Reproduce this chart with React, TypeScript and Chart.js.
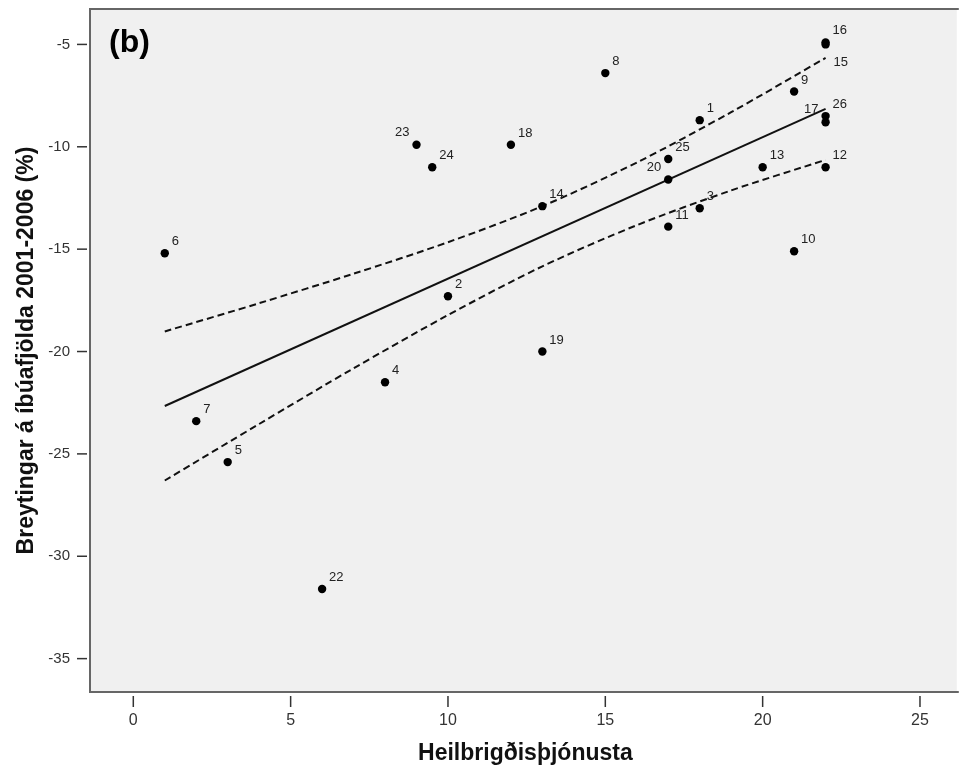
import React, { useEffect, useRef } from 'react';
import { Chart, registerables } from 'chart.js';

Chart.register(...registerables);

// Case numbers and values
const caseIds = [1, 2, 3, 4, 5, 6, 7, 8, 9, 10, 11, 12, 13, 14, 15, 16, 17, 18, 19, 20, 22, 23, 24, 25, 26];
const xValues = [18, 10, 18, 8, 3, 1, 2, 15, 21, 21, 17, 22, 20, 13, 22, 22, 22, 12, 13, 17, 6, 9, 9.5, 17, 22];
const yValues = [-8.7, -17.3, -13.0, -21.5, -25.4, -15.2, -23.4, -6.4, -7.3, -15.1, -13.9, -11.0, -11.0, -12.9, -5.0, -4.9, -8.8, -9.9, -20.0, -11.6, -31.6, -9.9, -11.0, -10.6, -8.5];
// label placement: ur = up-right, ul = up-left, dr = down-right
const labelPlacement = ['ur', 'ur', 'ur', 'ur', 'ur', 'ur', 'ur', 'ur', 'ur', 'ur', 'ur', 'ur', 'ur', 'ur', 'dr', 'ur', 'ul', 'ur', 'ur', 'ul', 'ur', 'ul', 'ur', 'ur', 'ur'];

// Fit line
const fitX = [1, 22];
const fitY = [-22.66, -8.15];

// 95% confidence band
const ciX = [1, 4, 7, 10, 13, 16, 19, 22];
const ciUpper = [-19.02, -17.64, -16.2, -14.66, -12.9, -10.77, -8.31, -5.66];
const ciLower = [-26.3, -23.54, -20.82, -18.22, -15.84, -13.83, -12.13, -10.64];

const xTicks = [0, 5, 10, 15, 20, 25];
const yTicks = [-5, -10, -15, -20, -25, -30, -35];

const xTitle = 'Heilbrigðisþjónusta';
const yTitle = 'Breytingar á íbúafjölda 2001-2006 (%)';
const panelTag = '(b)';

const FONT = '"Liberation Sans", Arial, sans-serif';

export default function App() {
  const ref = useRef<HTMLCanvasElement>(null);

  useEffect(() => {
    const canvas = ref.current;
    if (!canvas) return;

    const framePlugin = {
      id: 'spssFrame',
      beforeDatasetsDraw(chart: any) {
        const { ctx, chartArea } = chart;
        ctx.save();
        ctx.fillStyle = '#f0f0f0';
        ctx.fillRect(chartArea.left, chartArea.top, chartArea.right - chartArea.left, chartArea.bottom - chartArea.top);
        ctx.restore();
      },
      afterDraw(chart: any) {
        const { ctx, chartArea, scales } = chart;
        const { left, top, right, bottom } = chartArea;
        ctx.save();
        // frame
        ctx.strokeStyle = '#666';
        ctx.lineWidth = 2;
        ctx.beginPath();
        ctx.moveTo(right + 2, top);
        ctx.lineTo(left, top);
        ctx.lineTo(left, bottom);
        ctx.lineTo(right + 2, bottom);
        ctx.stroke();

        // tick marks and tick labels
        ctx.strokeStyle = '#333';
        ctx.lineWidth = 1.5;
        ctx.fillStyle = '#333';
        xTicks.forEach((v) => {
          const px = scales.x.getPixelForValue(v);
          ctx.beginPath();
          ctx.moveTo(px, bottom + 4);
          ctx.lineTo(px, bottom + 15);
          ctx.stroke();
          ctx.font = `16px ${FONT}`;
          ctx.textAlign = 'center';
          ctx.textBaseline = 'alphabetic';
          ctx.fillText(String(v), px, bottom + 33);
        });
        yTicks.forEach((v) => {
          const py = scales.y.getPixelForValue(v);
          ctx.beginPath();
          ctx.moveTo(left - 13, py);
          ctx.lineTo(left - 3, py);
          ctx.stroke();
          ctx.font = `15px ${FONT}`;
          ctx.textAlign = 'right';
          ctx.textBaseline = 'middle';
          ctx.fillText(String(v), left - 20, py);
        });

        // point labels
        const meta = chart.getDatasetMeta(0);
        ctx.fillStyle = '#222';
        ctx.font = `13px ${FONT}`;
        ctx.textBaseline = 'alphabetic';
        meta.data.forEach((el: any, i: number) => {
          const p = labelPlacement[i];
          const label = String(caseIds[i]);
          if (p === 'ul') {
            ctx.textAlign = 'right';
            ctx.fillText(label, el.x - 7, el.y - 9);
          } else if (p === 'dr') {
            ctx.textAlign = 'left';
            ctx.fillText(label, el.x + 8, el.y + 22);
          } else {
            ctx.textAlign = 'left';
            ctx.fillText(label, el.x + 7, el.y - 8);
          }
        });

        // panel tag
        ctx.fillStyle = '#000';
        ctx.font = `bold 32px ${FONT}`;
        ctx.textAlign = 'left';
        ctx.textBaseline = 'middle';
        ctx.fillText(panelTag, left + 19, top + 34);

        // axis titles
        ctx.fillStyle = '#111';
        ctx.font = `bold 23px ${FONT}`;
        ctx.textAlign = 'center';
        ctx.textBaseline = 'alphabetic';
        ctx.fillText(xTitle, (left + right) / 2 + 2, bottom + 68);

        ctx.translate(33, (top + bottom) / 2);
        ctx.rotate(-Math.PI / 2);
        ctx.fillText(yTitle, 0, 0);
        ctx.restore();
      },
    };

    const points = xValues.map((x, i) => ({ x, y: yValues[i] }));
    const fit = fitX.map((x, i) => ({ x, y: fitY[i] }));
    const upper = ciX.map((x, i) => ({ x, y: ciUpper[i] }));
    const lower = ciX.map((x, i) => ({ x, y: ciLower[i] }));

    const chart = new Chart(canvas, {
      type: 'scatter',
      data: {
        datasets: [
          {
            data: points,
            pointRadius: 4.2,
            pointBackgroundColor: '#000',
            pointBorderColor: '#000',
            pointBorderWidth: 0,
            showLine: false,
          },
          {
            data: fit,
            showLine: true,
            borderColor: '#111',
            borderWidth: 2,
            pointRadius: 0,
          },
          {
            data: upper,
            showLine: true,
            borderColor: '#111',
            borderWidth: 2,
            borderDash: [7, 4],
            pointRadius: 0,
            tension: 0.3,
          },
          {
            data: lower,
            showLine: true,
            borderColor: '#111',
            borderWidth: 2,
            borderDash: [7, 4],
            pointRadius: 0,
            tension: 0.3,
          },
        ],
      } as any,
      options: {
        responsive: false,
        maintainAspectRatio: false,
        animation: false,
        layout: { padding: { top: 9, right: 0, left: 0, bottom: 0 } },
        plugins: {
          legend: { display: false },
          tooltip: { enabled: false },
        },
        scales: {
          x: {
            type: 'linear',
            min: -1.376,
            max: 26.17,
            grid: { display: false },
            border: { display: false },
            afterBuildTicks: (s: any) => {
              s.ticks = xTicks.map((v) => ({ value: v }));
            },
            afterFit: (s: any) => {
              s.height = 77;
              s.paddingLeft = 0;
              s.paddingRight = 0;
            },
            ticks: { display: false, padding: 0 },
          },
          y: {
            type: 'linear',
            min: -36.63,
            max: -3.27,
            grid: { display: false },
            border: { display: false },
            afterBuildTicks: (s: any) => {
              s.ticks = yTicks.map((v) => ({ value: v }));
            },
            afterFit: (s: any) => {
              s.width = 90;
              s.paddingTop = 0;
              s.paddingBottom = 0;
            },
            ticks: { display: false, padding: 0 },
          },
        },
      } as any,
      plugins: [framePlugin],
    });

    return () => chart.destroy();
  }, []);

  return (
    <div style={{ position: 'absolute', left: 0, top: 0, width: 961, height: 769, background: '#fff' }}>
      <canvas ref={ref} width={961} height={769} style={{ display: 'block', width: 961, height: 769 }} />
    </div>
  );
}
